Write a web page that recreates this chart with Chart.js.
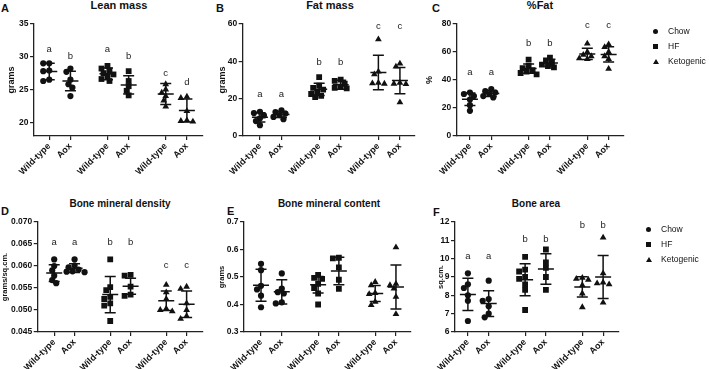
<!DOCTYPE html>
<html lang="en">
<head>
    <meta charset="UTF-8">
    <title>Body composition by genotype and diet</title>
    <script src="https://cdn.jsdelivr.net/npm/chart.js"></script>
    <style>
        body {
            margin: 0;
            background: #fff;
            font-family: 'Liberation Sans', Arial, sans-serif;
            color: #111;
        }
        #wrap {
            position: relative;
            width: 709px;
            height: 369px;
            overflow: hidden;
        }
        canvas { position: absolute; }
        .tag, .ttl, .leg {
            position: absolute;
            white-space: nowrap;
            line-height: 1;
        }
        .tag { font-size: 11px; font-weight: bold; }
        .ttl { font-weight: bold; transform: translateX(-50%); }
        .leg { font-size: 8.5px; }
        .mk { position: absolute; background: #111; }
        .mk.c { width: 5px; height: 5px; border-radius: 50%; }
        .mk.s { width: 5px; height: 5px; }
        .mk.t { width: 0; height: 0; background: none; border-left: 3px solid transparent; border-right: 3px solid transparent; border-bottom: 5px solid #111; }
    </style>
</head>
<body>
<div id="wrap">
    <div class="tag" style="left:1px;top:3px">A</div>
    <div class="ttl" style="left:119px;top:0px;font-size:11px">Lean mass</div>
    <div class="tag" style="left:216px;top:3px">B</div>
    <div class="ttl" style="left:330px;top:0px;font-size:11px">Fat mass</div>
    <div class="tag" style="left:432px;top:3px">C</div>
    <div class="ttl" style="left:540px;top:0px;font-size:11px">%Fat</div>

    <div class="tag" style="left:1px;top:206px">D</div>
    <div class="ttl" style="left:120px;top:199px;font-size:10px">Bone mineral density</div>
    <div class="tag" style="left:227px;top:206px">E</div>
    <div class="ttl" style="left:329px;top:199px;font-size:10px">Bone mineral content</div>
    <div class="tag" style="left:433px;top:207px">F</div>
    <div class="ttl" style="left:536px;top:199px;font-size:10px">Bone area</div>
</div>

<script>
    // groups along the x axis
    const groupLabels = ['Wild-type', 'Aox', 'Wild-type', 'Aox', 'Wild-type', 'Aox'];
    const groupPos = [1, 2, 3.75, 4.75, 6.5, 7.5];
    const diets = ['Chow', 'HF', 'Ketogenic'];
    const dietShapes = ['circle', 'rect', 'triangle'];

    // A - Lean mass (grams)
    const leanPoints = [
        [29.0, 29.0, 27.9, 27.8, 26.5, 26.3],
        [28.2, 27.7, 26.5, 25.8, 25.3, 24.0],
        [28.6, 28.2, 27.9, 27.5, 27.3, 27.0, 26.6, 26.3],
        [27.8, 26.3, 25.5, 24.8, 24.1],
        [25.8, 25.0, 24.5, 24.0, 23.3, 22.4],
        [23.9, 23.7, 21.7, 20.3, 20.2, 20.1]
    ];
    const leanMean = [27.75, 26.3, 27.4, 25.7, 24.3, 21.8];
    const leanSD = [1.25, 1.5, 0.9, 1.4, 1.6, 1.75];
    const leanLetters = ['a', 'b', 'a', 'b', 'c', 'd'];
    const leanLetterY = [31.1, 30.0, 31.1, 30.0, 27.4, 26.1];
    const leanTicks = [20, 25, 30, 35];

    // B - Fat mass (grams)
    const fatPoints = [
        [13.0, 12.3, 11.0, 9.5, 8.0, 5.8],
        [13.8, 12.8, 12.0, 11.2, 10.2, 9.0],
        [31.5, 27.0, 25.8, 24.8, 23.5, 22.5, 21.5, 20.8],
        [30.2, 29.5, 28.0, 26.5, 25.8, 25.5],
        [51.8, 34.5, 33.0, 28.5, 28.2, 28.0],
        [38.8, 37.2, 28.5, 28.0, 27.8, 18.0]
    ];
    const fatMean = [10.0, 11.5, 25.0, 27.5, 34.0, 29.7];
    const fatSD = [2.5, 1.6, 3.3, 2.4, 9.2, 7.0];
    const fatLetters = ['a', 'a', 'b', 'b', 'c', 'c'];
    const fatLetterY = [22.5, 22.5, 39.3, 39.3, 58.6, 58.6];
    const fatTicks = [0, 20, 40, 60];

    // C - %Fat
    const pctPoints = [
        [31, 30, 28.5, 26, 22, 18],
        [33.5, 32, 31, 30, 28.5, 27.5],
        [54.5, 50, 48.5, 47, 46, 45, 44],
        [56, 54, 52.5, 51, 50, 49],
        [66, 60, 58, 57, 55.5, 55],
        [65.5, 63.5, 60, 57, 55, 48]
    ];
    const pctMean = [26.2, 30.4, 48.2, 52.2, 58.6, 58.3];
    const pctSD = [4.5, 2.1, 3.3, 2.6, 4.0, 5.5];
    const pctLetters = ['a', 'a', 'b', 'b', 'c', 'c'];
    const pctLetterY = [45.5, 45.5, 66.2, 66.2, 79.3, 79.3];
    const pctTicks = [0, 20, 40, 60, 80];

    // D - Bone mineral density (grams/sq.cm.)
    const bmdPoints = [
        [0.0615, 0.0600, 0.0590, 0.0578, 0.0568, 0.0561],
        [0.0615, 0.0601, 0.0597, 0.0592, 0.0588, 0.0586, 0.0587],
        [0.0615, 0.0552, 0.0545, 0.0530, 0.0525, 0.0515, 0.0510, 0.0475],
        [0.0580, 0.0578, 0.0553, 0.0535, 0.0532],
        [0.0557, 0.0540, 0.0525, 0.0503, 0.0500, 0.0497],
        [0.0553, 0.0548, 0.0515, 0.0500, 0.0486, 0.0480]
    ];
    const bmdMean = [0.0584, 0.0595, 0.0535, 0.0554, 0.0521, 0.0513];
    const bmdSD = [0.0019, 0.0010, 0.0041, 0.0018, 0.0022, 0.0030];
    const bmdLetters = ['a', 'a', 'b', 'b', 'c', 'c'];
    const bmdLetterY = [0.0653, 0.0653, 0.0653, 0.0653, 0.0602, 0.0602];
    const bmdTicks = [0.045, 0.050, 0.055, 0.060, 0.065, 0.070];

    // E - Bone mineral content (grams)
    const bmcPoints = [
        [0.548, 0.525, 0.468, 0.455, 0.432, 0.390],
        [0.513, 0.458, 0.445, 0.440, 0.408, 0.404],
        [0.508, 0.497, 0.493, 0.475, 0.460, 0.440, 0.400],
        [0.570, 0.568, 0.535, 0.490, 0.457],
        [0.482, 0.470, 0.442, 0.438, 0.410, 0.398],
        [0.608, 0.475, 0.470, 0.458, 0.428, 0.365]
    ];
    const bmcMean = [0.470, 0.446, 0.472, 0.522, 0.440, 0.464];
    const bmcSD = [0.058, 0.044, 0.030, 0.050, 0.029, 0.080];
    const bmcTicks = [0.3, 0.4, 0.5, 0.6, 0.7];

    // F - Bone area (sq.cm.)
    const areaPoints = [
        [9.2, 8.6, 8.4, 8.0, 7.7, 6.6],
        [8.8, 7.8, 7.7, 7.4, 7.0, 6.8],
        [10.1, 9.4, 9.3, 9.0, 8.9, 8.6, 8.3, 7.2],
        [10.5, 9.8, 9.5, 9.0, 8.3],
        [8.95, 8.9, 8.85, 8.55, 8.1, 7.35],
        [11.15, 9.2, 8.7, 8.65, 8.6, 7.6]
    ];
    const areaMean = [8.05, 7.55, 8.85, 9.44, 8.46, 9.0];
    const areaSD = [0.88, 0.70, 0.87, 0.83, 0.55, 1.17];
    const areaLetters = ['a', 'a', 'b', 'b', 'b', 'b'];
    const areaLetterY = [10.15, 10.15, 11.07, 11.07, 11.8, 11.8];
    const areaTicks = [6, 7, 8, 9, 10, 11, 12];

    const FONT = "'Liberation Sans', Arial, sans-serif";
    Chart.defaults.font.family = FONT;
    Chart.defaults.color = '#111';

    // box = [left, top, width, height] of each canvas on the page
    const panels = [
        { yTitle: 'grams', points: leanPoints, mean: leanMean, sd: leanSD, letters: leanLetters, letterY: leanLetterY,
          ticks: leanTicks, yMin: 17.9, yMax: 35, dec: 0, box: [0, 0, 220, 180], padL: 6.6, yW: 27.4, padT: 24, padR: 17, xH: 44,
          xMin: 0.28, xMax: 8.26, titleSize: 9 },
        { yTitle: 'grams', points: fatPoints, mean: fatMean, sd: fatSD, letters: fatLetters, letterY: fatLetterY,
          ticks: fatTicks, yMin: 0, yMax: 60, dec: 0, box: [214, 0, 218, 180], padL: 3.6, yW: 25.1, padT: 24, padR: 17, xH: 44,
          xMin: 0.2, xMax: 8.2, titleSize: 9 },
        { yTitle: '%', points: pctPoints, mean: pctMean, sd: pctSD, letters: pctLetters, letterY: pctLetterY,
          ticks: pctTicks, yMin: 0, yMax: 80, dec: 0, box: [418, 0, 222, 180], padL: 6.6, yW: 32.1, padT: 24, padR: 16, xH: 44,
          xMin: 0.38, xMax: 8.22, titleSize: 9 },
        { yTitle: 'grams/sq.cm.', points: bmdPoints, mean: bmdMean, sd: bmdSD, letters: bmdLetters, letterY: bmdLetterY,
          ticks: bmdTicks, yMin: 0.045, yMax: 0.070, dec: 3, box: [0, 185, 220, 184], padL: 0.5, yW: 37.2, padT: 37, padR: 17.7, xH: 37,
          xMin: 0.19, xMax: 8.27, titleSize: 7.5 },
        { yTitle: 'grams', points: bmcPoints, mean: bmcMean, sd: bmcSD, letters: null, letterY: null,
          ticks: bmcTicks, yMin: 0.3, yMax: 0.7, dec: 1, box: [212, 185, 216, 184], padL: 5.5, yW: 26.5, padT: 37, padR: 17.3, xH: 37,
          xMin: 0.18, xMax: 8.21, titleSize: 7.5 },
        { yTitle: 'sq.cm.', points: areaPoints, mean: areaMean, sd: areaSD, letters: areaLetters, letterY: areaLetterY,
          ticks: areaTicks, yMin: 6, yMax: 12, dec: 0, box: [432, 185, 203, 184], padL: 4.5, yW: 18.5, padT: 37, padR: 16.7, xH: 37,
          xMin: 0.38, xMax: 8.23, titleSize: 7.5 }
    ];

    // mean line, SD whiskers and significance letters
    function barsPlugin(cfg) {
        return {
            id: 'sdBars',
            afterDatasetsDraw(chart) {
                const ctx = chart.ctx, xs = chart.scales.x, ys = chart.scales.y;
                ctx.save();
                ctx.strokeStyle = '#111';
                ctx.lineWidth = 1.5;
                cfg.mean.forEach((m, g) => {
                    const x = xs.getPixelForValue(groupPos[g]);
                    const yM = ys.getPixelForValue(m);
                    const yT = ys.getPixelForValue(m + cfg.sd[g]);
                    const yB = ys.getPixelForValue(m - cfg.sd[g]);
                    ctx.beginPath();
                    ctx.moveTo(x - 8, yM); ctx.lineTo(x + 8, yM);
                    ctx.moveTo(x, yT); ctx.lineTo(x, yB);
                    ctx.moveTo(x - 5.5, yT); ctx.lineTo(x + 5.5, yT);
                    ctx.moveTo(x - 5.5, yB); ctx.lineTo(x + 5.5, yB);
                    ctx.stroke();
                });
                if (cfg.letters) {
                    ctx.fillStyle = '#222';
                    ctx.font = '9.5px ' + FONT;
                    ctx.textAlign = 'center';
                    ctx.textBaseline = 'middle';
                    cfg.letters.forEach((t, g) => {
                        ctx.fillText(t, xs.getPixelForValue(groupPos[g]), ys.getPixelForValue(cfg.letterY[g]));
                    });
                }
                ctx.restore();
            }
        };
    }

    // spread overlapping points sideways, like a scatter dot plot
    function spreadPoints(chart, cfg) {
        const xs = chart.scales.x, ys = chart.scales.y;
        const unit = xs.getPixelForValue(1) - xs.getPixelForValue(0);
        const xVals = cfg.points.map(vals => {
            const placed = [];
            const res = new Array(vals.length);
            const order = vals.map((v, i) => i).sort((a, b) => vals[b] - vals[a]);
            order.forEach(i => {
                const py = ys.getPixelForValue(vals[i]);
                let off = 0;
                for (let k = 0; k < 40; k++) {
                    off = (k % 2 ? -1 : 1) * Math.ceil(k / 2) * 2;
                    const hit = placed.some(p => Math.hypot(p.off - off, p.py - py) < 4.8);
                    if (!hit) break;
                }
                placed.push({ off, py });
                res[i] = off / unit;
            });
            return res;
        });
        chart.data.datasets.forEach((ds, d) => {
            let n = 0;
            [2 * d, 2 * d + 1].forEach(g => {
                cfg.points[g].forEach((v, i) => {
                    ds.data[n].x = groupPos[g] + xVals[g][i];
                    n++;
                });
            });
        });
        chart.update('none');
    }

    const wrap = document.getElementById('wrap');

    panels.forEach(cfg => {
        const cv = document.createElement('canvas');
        cv.width = cfg.box[2];
        cv.height = cfg.box[3];
        cv.style.left = cfg.box[0] + 'px';
        cv.style.top = cfg.box[1] + 'px';
        wrap.appendChild(cv);

        const datasets = diets.map((name, d) => {
            const data = [];
            [2 * d, 2 * d + 1].forEach(g => {
                cfg.points[g].forEach(v => data.push({ x: groupPos[g], y: v }));
            });
            return {
                label: name,
                data: data,
                pointStyle: dietShapes[d],
                pointRadius: d === 0 ? 3.1 : (d === 1 ? 4.1 : 3.9),
                backgroundColor: '#111',
                borderColor: '#111',
                borderWidth: 0
            };
        });

        const chart = new Chart(cv.getContext('2d'), {
            type: 'scatter',
            data: { datasets: datasets },
            options: {
                responsive: false,
                animation: false,
                devicePixelRatio: 1,
                layout: { padding: { left: cfg.padL, top: cfg.padT, right: cfg.padR, bottom: 0 } },
                plugins: { legend: { display: false }, tooltip: { enabled: false } },
                scales: {
                    x: {
                        type: 'linear',
                        min: cfg.xMin,
                        max: cfg.xMax,
                        afterBuildTicks: s => { s.ticks = groupPos.map(v => ({ value: v })); },
                        afterFit: s => { s.height = cfg.xH; },
                        grid: { drawOnChartArea: false, drawTicks: true, tickLength: 4, color: '#222', lineWidth: 1.2 },
                        border: { display: true, color: '#222', width: 1.3 },
                        ticks: {
                            autoSkip: false,
                            minRotation: 45,
                            maxRotation: 45,
                            padding: 1,
                            color: '#111',
                            font: { size: 9, weight: 'bold' },
                            callback: v => {
                                const i = groupPos.indexOf(v);
                                return i < 0 ? '' : groupLabels[i];
                            }
                        }
                    },
                    y: {
                        min: cfg.yMin,
                        max: cfg.yMax,
                        afterBuildTicks: s => { s.ticks = cfg.ticks.map(v => ({ value: v })); },
                        afterFit: s => { s.width = cfg.yW; },
                        grid: { drawOnChartArea: false, drawTicks: true, tickLength: 4, color: '#222', lineWidth: 1.2 },
                        border: { display: true, color: '#222', width: 1.3 },
                        ticks: {
                            padding: 1.5,
                            color: '#111',
                            font: { size: 8.5, weight: 'bold' },
                            callback: v => Number(v).toFixed(cfg.dec)
                        },
                        title: {
                            display: true,
                            text: cfg.yTitle,
                            color: '#111',
                            padding: { top: 0, bottom: 0 },
                            font: { size: cfg.titleSize, weight: 'bold' }
                        }
                    }
                }
            },
            plugins: [barsPlugin(cfg)]
        });
        spreadPoints(chart, cfg);
    });

    // legends beside panels C and F
    function addLegend(mx, tx, rows) {
        const cls = ['c', 's', 't'];
        diets.forEach((name, d) => {
            const mk = document.createElement('div');
            mk.className = 'mk ' + cls[d];
            mk.style.left = (mx - 2.5) + 'px';
            mk.style.top = (rows[d] - 2.5) + 'px';
            wrap.appendChild(mk);
            const lb = document.createElement('div');
            lb.className = 'leg';
            lb.textContent = name;
            lb.style.left = tx + 'px';
            lb.style.top = (rows[d] - 4.5) + 'px';
            wrap.appendChild(lb);
        });
    }
    addLegend(655, 668, [31, 46, 61]);
    addLegend(648, 661, [229, 244, 259]);
</script>
</body>
</html>
